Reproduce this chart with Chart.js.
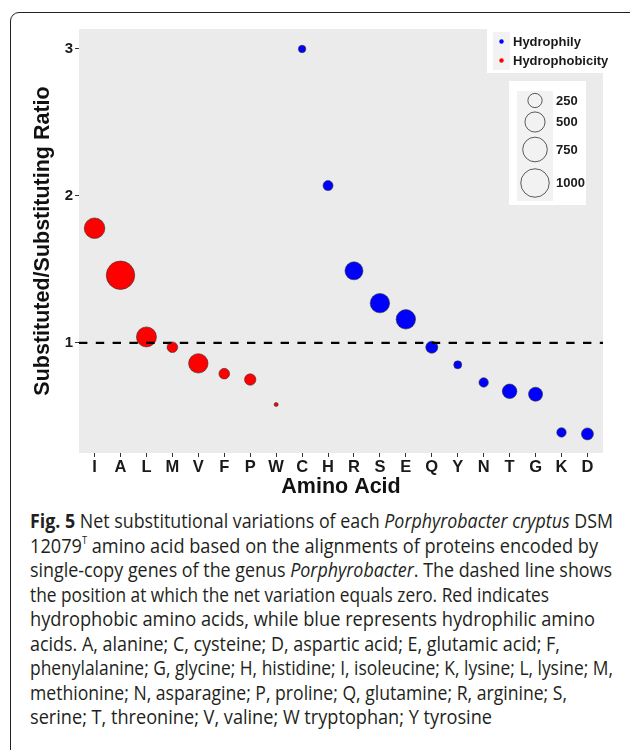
<!DOCTYPE html>
<html><head><meta charset="utf-8">
<script src="https://cdn.jsdelivr.net/npm/chart.js@4.4.1/dist/chart.umd.min.js"></script>
<style>
html,body{margin:0;padding:0;background:#fff;}
body{width:630px;height:750px;position:relative;overflow:hidden;}
#frame{position:absolute;left:10px;top:12px;width:640px;height:780px;border:1.6px solid #222;border-radius:9px;box-sizing:border-box;}
#wrap{position:absolute;left:0;top:0;width:630px;height:500px;}
#cap{position:absolute;left:30px;top:509px;font-family:"Open Sans",sans-serif;font-size:19.5px;line-height:24.5px;color:#231f20;white-space:nowrap;}
#cap > div{height:24.5px;}
#cap span.ln{display:inline-block;transform-origin:0 0;}
#cap sup{font-size:10px;line-height:0;vertical-align:9px;}
</style></head>
<body>
<div id="frame"></div>
<div id="wrap"><canvas id="c" width="630" height="500"></canvas></div>
<div id="cap">
<div><span class="ln"><b>Fig. 5</b> Net substitutional variations of each <i>Porphyrobacter cryptus</i> DSM</span></div>
<div><span class="ln">12079<sup>T</sup> amino acid based on the alignments of proteins encoded by</span></div>
<div><span class="ln">single-copy genes of the genus <i>Porphyrobacter</i>. The dashed line shows</span></div>
<div><span class="ln">the position at which the net variation equals zero. Red indicates</span></div>
<div><span class="ln">hydrophobic amino acids, while blue represents hydrophilic amino</span></div>
<div><span class="ln">acids. A, alanine; C, cysteine; D, aspartic acid; E, glutamic acid; F,</span></div>
<div><span class="ln">phenylalanine; G, glycine; H, histidine; I, isoleucine; K, lysine; L, lysine; M,</span></div>
<div><span class="ln">methionine; N, asparagine; P, proline; Q, glutamine; R, arginine; S,</span></div>
<div><span class="ln">serine; T, threonine; V, valine; W tryptophan; Y tyrosine</span></div>
</div>
<script>
// ---- data ----
const categories = ['I','A','L','M','V','F','P','W','C','H','R','S','E','Q','Y','N','T','G','K','D'];
const hydrophobicSet = ['I','A','L','M','V','F','P','W'];
const ratios = [1.78,1.46,1.04,0.97,0.86,0.79,0.75,0.58,3.00,2.07,1.49,1.27,1.16,0.97,0.85,0.73,0.67,0.65,0.39,0.38];
const sizes  = [525,1000,495,140,465,140,160,20,68,123,400,465,465,178,79,109,263,242,109,178];
const yTicks = [1,2,3];
const sizeBreaks = [250,500,750,1000];
const groupLabels = ['Hydrophily','Hydrophobicity'];
const groupColors = ['#0000FF','#FF0000'];
const refLine = 1;

// caption line widths (layout of the figure caption)
const captionLineWidths = [583,568,582,519,565,530,583,537,462];
document.querySelectorAll('#cap span.ln').forEach((el,i)=>{
  const w = el.getBoundingClientRect().width;
  el.style.transform = 'scaleX(' + (captionLineWidths[i]/w) + ')';
});

const FAM = '"Liberation Sans", Arial, sans-serif';
const rOf = s => 0.45 * Math.sqrt(s);

function pts(hydro){
  const out = [];
  categories.forEach((c,i)=>{
    const isH = hydrophobicSet.includes(c);
    if (isH === hydro) out.push({x:i, y:ratios[i], s:sizes[i]});
  });
  return out;
}
const datasets = [
  {label:groupLabels[1], data:pts(true), backgroundColor:groupColors[1]},
  {label:groupLabels[0], data:pts(false), backgroundColor:groupColors[0]}
].map(d=>Object.assign(d,{
  borderColor:'#333', borderWidth:0.6,
  pointRadius: ctx => rOf(ctx.raw.s), pointHoverRadius: ctx => rOf(ctx.raw.s)
}));

const bgPlugin = {id:'bg', beforeDraw(ch){
  const a = ch.chartArea, g = ch.ctx;
  g.save(); g.fillStyle = '#EBEBEB'; g.fillRect(a.left, a.top, a.right-a.left, a.bottom-a.top); g.restore();
}};
const hlinePlugin = {id:'hline', afterDatasetsDraw(ch){
  const a = ch.chartArea, g = ch.ctx, y = ch.scales.y.getPixelForValue(refLine);
  g.save(); g.strokeStyle='#000'; g.lineWidth=2.2; g.setLineDash([8.4,8.4]);
  g.beginPath(); g.moveTo(a.left,y); g.lineTo(a.right,y); g.stroke(); g.restore();
}};
const legendPlugin = {id:'lg', afterDraw(ch){
  const g = ch.ctx;
  g.save();
  // colour legend
  g.fillStyle='#fff'; g.fillRect(487,29,130,44);
  g.font = 'bold 13px '+FAM; g.textBaseline='middle'; g.textAlign='left';
  const rows = [[32,51],[51,70]];
  groupLabels.forEach((lab,i)=>{
    g.fillStyle='#F2F2F2'; g.fillRect(493,rows[i][0],17,rows[i][1]-rows[i][0]);
    const cy=(rows[i][0]+rows[i][1])/2;
    g.beginPath(); g.arc(501.5,cy,2.2,0,Math.PI*2); g.fillStyle=groupColors[i]; g.fill();
    g.fillStyle='#1a1a1a'; g.fillText(lab,513,cy+0.5);
  });
  // size legend
  g.fillStyle='#fff'; g.fillRect(509,81,77,124);
  const srows = [[91,110],[110,134],[134,165],[165,201]];
  sizeBreaks.forEach((b,i)=>{
    g.fillStyle='#F2F2F2'; g.fillRect(517,srows[i][0],36,srows[i][1]-srows[i][0]);
    const cy=(srows[i][0]+srows[i][1])/2;
    g.beginPath(); g.arc(535,cy,rOf(b),0,Math.PI*2); g.strokeStyle='#333'; g.lineWidth=0.8; g.stroke();
    g.fillStyle='#1a1a1a'; g.fillText(String(b),556,cy+0.5);
  });
  g.restore();
}};

new Chart(document.getElementById('c'), {
  type:'scatter',
  data:{datasets},
  options:{
    responsive:false, animation:false, devicePixelRatio:1,
    layout:{padding:{left:0,right:27,top:29,bottom:0}},
    plugins:{legend:{display:false}, tooltip:{enabled:false}},
    scales:{
      x:{type:'linear', min:-0.6, max:categories.length-0.4,
        afterBuildTicks:s=>{ s.ticks = categories.map((c,i)=>({value:i})); },
        afterFit:s=>{ s.height = 47; },
        ticks:{callback:v=>categories[v], font:{family:FAM,size:16.5,weight:'bold'}, color:'#1a1a1a', padding:1, maxRotation:0, autoSkip:false},
        grid:{display:true, drawOnChartArea:false, drawTicks:true, tickLength:4, color:'#333', lineWidth:1},
        border:{display:false},
        title:{display:true, text:'Amino Acid', font:{family:FAM,size:21.5,weight:'bold',lineHeight:1}, color:'#111', padding:{top:0,bottom:2}}
      },
      y:{type:'linear', min:0.25, max:3.136,
        afterBuildTicks:s=>{ s.ticks = yTicks.map(v=>({value:v})); },
        afterFit:s=>{ s.width = 79; },
        ticks:{font:{family:FAM,size:15,weight:'bold'}, color:'#1a1a1a', padding:2},
        grid:{display:true, drawOnChartArea:false, drawTicks:true, tickLength:4, color:'#333', lineWidth:1},
        border:{display:false},
        title:{display:true, text:'Substituted/Substituting Ratio', font:{family:FAM,size:21.5,weight:'bold',lineHeight:1}, color:'#111', padding:{top:32,bottom:0}}
      }
    }
  },
  plugins:[bgPlugin, hlinePlugin, legendPlugin]
});
</script>
</body></html>
